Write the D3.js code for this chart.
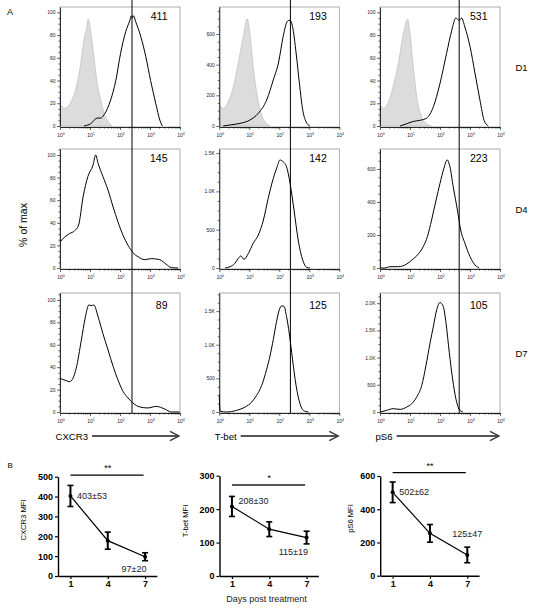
<!DOCTYPE html>
<html><head><meta charset="utf-8">
<script src="https://cdn.jsdelivr.net/npm/d3@7"></script>
<style>body{margin:0;background:#fff} svg{display:block}</style>
</head><body>
<script>
// ---------------- DATA ----------------
const markers = ["CXCR3", "T-bet", "pS6"];
const dayLabels = ["D1", "D4", "D7"];
const mfiText = [["411", "193", "531"], ["145", "142", "223"], ["89", "125", "105"]];
const gateDecades = [2.4, 2.37, 2.64];
const yAxisMax = [[104.7, 776, 104.7], [105.3, 1553, 721], [106.2, 1769, 2187]];
const pctTicks = [0, 20, 40, 60, 80, 100];
const yMajorTicks = [
  [pctTicks, [0, 200, 400, 600], pctTicks],
  [pctTicks, [0, 500, 1000, 1500], [0, 200, 400, 600]],
  [pctTicks, [0, 500, 1000, 1500], [0, 500, 1000, 1500, 2000]]
];
const xDecadeTicks = [0, 1, 2, 3, 4];

// histogram points: [log10 fluorescence, % of max or count]
const isoCXCR3 = [[0.00,18.5],[0.02,18.5],[0.13,15.5],[0.36,21],[0.52,32],[0.69,55],[0.80,76],[0.89,87],[0.94,94],[1.02,84],[1.13,61],[1.24,37.5],[1.36,23],[1.47,11],[1.58,5],[1.69,1],[1.74,0]];
const isoTbet = [[0.00,131],[0.02,131],[0.13,116],[0.30,159],[0.47,257],[0.63,410],[0.80,585],[0.93,698],[1.02,607],[1.13,388],[1.27,192],[1.41,72],[1.58,17],[1.69,0]];
const isoPS6 = [[0.00,17.6],[0.02,17.6],[0.11,15.5],[0.28,21],[0.44,35],[0.61,55],[0.78,81.5],[0.92,94],[1.00,81.5],[1.11,52],[1.24,23],[1.39,8],[1.56,2],[1.72,0]];

const cxcr3D1 = [[0.80,0],[1.02,2],[1.24,7],[1.36,7],[1.47,10],[1.69,23],[1.86,40],[2.02,64],[2.19,83],[2.33,93],[2.38,97],[2.41,95],[2.45,97],[2.52,92],[2.69,79],[2.86,61],[3.02,40],[3.19,20],[3.33,5],[3.41,0]];
const tbetD1 = [[0.13,0],[0.36,7],[0.69,17],[1.02,39],[1.30,83],[1.58,170],[1.80,301],[1.97,410],[2.13,585],[2.27,683],[2.36,690],[2.44,650],[2.56,476],[2.67,279],[2.78,105],[2.89,28],[3.02,0]];
const ps6D1 = [[0.67,0],[0.89,2],[1.11,4],[1.33,5],[1.56,7],[1.78,17],[2.00,37.5],[2.22,64],[2.39,84],[2.53,95],[2.64,93],[2.72,95],[2.83,87],[3.00,70],[3.17,46],[3.33,23],[3.47,5],[3.61,0]];

const cxcr3D4 = [[0.00,23],[0.16,27.5],[0.32,30.5],[0.49,33],[0.62,38],[0.77,63],[0.93,81],[1.10,91],[1.19,100],[1.27,92.6],[1.43,81],[1.60,69],[1.77,54],[1.93,41],[2.10,29],[2.27,20],[2.43,13.6],[2.60,10],[2.82,7.4],[3.04,8.3],[3.32,7.4],[3.54,3.3],[3.71,0.3],[3.93,0]];
const tbetD4 = [[0.19,0],[0.36,17],[0.52,61],[0.63,126],[0.72,157],[0.82,113],[0.97,191],[1.13,322],[1.30,430],[1.47,626],[1.63,909],[1.80,1170],[1.93,1322],[2.02,1409],[2.13,1387],[2.24,1322],[2.36,1104],[2.49,757],[2.63,365],[2.78,104],[2.91,9],[3.02,0]];
const ps6D4 = [[0.02,0],[0.17,0],[0.33,8],[0.61,8],[0.89,24],[1.06,48],[1.28,85],[1.44,129],[1.58,190],[1.72,291],[1.87,412],[2.00,513],[2.13,604],[2.24,655],[2.33,614],[2.44,493],[2.58,352],[2.69,230],[2.83,150],[3.00,69],[3.17,18],[3.31,0]];

const cxcr3D7 = [[0.00,30],[0.10,29],[0.21,28],[0.32,27],[0.43,30],[0.54,39],[0.71,64],[0.84,84],[0.96,95.5],[1.04,95],[1.13,95.5],[1.27,85],[1.43,70],[1.60,55.5],[1.77,40.7],[1.93,28.8],[2.10,18.4],[2.27,12.5],[2.43,8],[2.66,4.5],[2.93,3.6],[3.21,5],[3.49,2.7],[3.71,0],[3.99,0]];
const tbetD7 = [[0.00,250],[0.02,40],[0.04,10],[0.24,0],[0.58,25],[0.86,74],[1.08,147],[1.24,245],[1.41,392],[1.58,637],[1.69,833],[1.80,1078],[1.91,1348],[2.00,1520],[2.08,1578],[2.16,1569],[2.24,1422],[2.33,1176],[2.44,784],[2.56,392],[2.69,123],[2.80,25],[2.97,0]];
const ps6D7 = [[0.02,0],[0.22,30],[0.44,61],[0.67,48],[0.89,91],[1.06,152],[1.22,273],[1.39,485],[1.53,848],[1.67,1273],[1.78,1576],[1.89,1879],[2.00,2012],[2.11,1939],[2.20,1636],[2.31,1091],[2.42,606],[2.53,242],[2.64,48],[2.76,0]];

const histograms = [[cxcr3D1, tbetD1, ps6D1], [cxcr3D4, tbetD4, ps6D4], [cxcr3D7, tbetD7, ps6D7]];
const isotypeD1 = [isoCXCR3, isoTbet, isoPS6];

// Panel B
const days = [1, 4, 7];
const mfiTitles = ["CXCR3 MFI", "T-bet MFI", "pS6 MFI"];
const mfiMean = [[403, 178, 97], [208, 140, 115], [502, 255, 125]];
const mfiErr = [[53, 43, 20], [30, 22, 19], [62, 53, 47]];
const mfiYMax = [500, 300, 600];
const mfiYTicks = [[0, 100, 200, 300, 400, 500], [0, 100, 200, 300], [0, 200, 400, 600]];
const sigStars = ["**", "*", "**"];
const sigLevel = [508, 272, 620];
const annoText = [["403±53", "97±20"], ["208±30", "115±19"], ["502±62", "125±47"]];

// ---------------- DRAW ----------------
const FONT = "'Liberation Sans', Arial, Helvetica, sans-serif";
const svg = d3.select("body").append("svg").attr("width", 537).attr("height", 611)
  .style("font-family", FONT);

const colLeft = [60, 219.3, 380], rowTop = [7, 149, 293], PW = 120, PH = 120;
const fmtCount = v => v >= 1000 ? (v / 1000).toFixed(1) + "K" : String(v);

svg.append("text").attr("x", 7).attr("y", 14.5).attr("font-size", 9).text("A");

for (let r = 0; r < 3; r++) {
  for (let c = 0; c < 3; c++) {
    const left = colLeft[c], top = rowTop[r], bottom = top + PH;
    const x = d3.scaleLog().domain([1, 1e4]).range([left, left + PW]);
    const y = d3.scaleLinear().domain([0, yAxisMax[r][c]]).range([bottom - 1, top]);
    const g = svg.append("g");
    g.append("rect").attr("x", left).attr("y", top).attr("width", PW).attr("height", PH)
      .attr("fill", "none").attr("stroke", "#8a8a8a").attr("stroke-width", 0.7);

    const fx = d => x(Math.pow(10, d[0]));
    if (r === 0) {
      const area = d3.area().x(fx).y0(y(0)).y1(d => y(d[1])).curve(d3.curveMonotoneX);
      g.append("path").datum(isotypeD1[c]).attr("d", area)
        .attr("fill", "#dcdcdc").attr("stroke", "#b5b5b5").attr("stroke-width", 0.6);
    }
    const line = d3.line().x(fx).y(d => y(d[1])).curve(d3.curveMonotoneX);
    g.append("path").datum(histograms[r][c]).attr("d", line)
      .attr("fill", "none").attr("stroke", "#000").attr("stroke-width", 1);

    // x axis (log)
    const majors = xDecadeTicks.map(d => Math.pow(10, d));
    const minors = [];
    for (let d = 0; d < 4; d++) for (let k = 2; k <= 9; k++) minors.push(k * Math.pow(10, d));
    const xa = g.append("g").attr("transform", `translate(0,${bottom})`)
      .call(d3.axisBottom(x).tickValues(majors).tickSize(3).tickSizeOuter(0).tickFormat(""));
    const xm = g.append("g").attr("transform", `translate(0,${bottom})`)
      .call(d3.axisBottom(x).tickValues(minors).tickSize(1.6).tickSizeOuter(0).tickFormat(""));
    xm.select(".domain").remove();
    [xa, xm].forEach(a => { a.select(".domain").attr("stroke", "#000").attr("stroke-width", 0.8);
      a.selectAll(".tick line").attr("stroke", "#000").attr("stroke-width", 0.6); });
    xDecadeTicks.forEach(d => {
      const t = g.append("text").attr("x", x(Math.pow(10, d)) + 1).attr("y", bottom + 9.5)
        .attr("text-anchor", "middle").attr("font-size", 5).attr("fill", "#222");
      t.append("tspan").text("10");
      t.append("tspan").attr("dy", -2).attr("font-size", 3.6).text(d);
    });

    // y axis
    const ymaj = yMajorTicks[r][c];
    const step = ymaj[1] - ymaj[0];
    const yminors = d3.range(0, yAxisMax[r][c], step / 4).filter(v => !ymaj.includes(v));
    const ya = g.append("g").attr("transform", `translate(${left},0)`)
      .call(d3.axisLeft(y).tickValues(ymaj).tickSize(3).tickSizeOuter(0).tickPadding(1.5).tickFormat(fmtCount));
    const ym = g.append("g").attr("transform", `translate(${left},0)`)
      .call(d3.axisLeft(y).tickValues(yminors).tickSize(1.6).tickSizeOuter(0).tickFormat(""));
    ym.select(".domain").remove();
    [ya, ym].forEach(a => { a.select(".domain").attr("stroke", "#000").attr("stroke-width", 0.8);
      a.selectAll(".tick line").attr("stroke", "#000").attr("stroke-width", 0.6); });
    ya.selectAll(".tick text").attr("font-size", 5).attr("font-family", FONT).attr("fill", "#222");

    // MFI number
    g.append("text").attr("x", left + 107.5).attr("y", top + (r === 2 ? 16.3 : 12.8))
      .attr("text-anchor", "end").attr("font-size", 10.5).text(mfiText[r][c]);
  }
  svg.append("text").attr("x", 515.5).attr("y", rowTop[r] + 63.8).attr("font-size", 9.5).text(dayLabels[r]);
}

// gate lines
for (let c = 0; c < 3; c++) {
  const x = d3.scaleLog().domain([1, 1e4]).range([colLeft[c], colLeft[c] + PW]);
  svg.append("line").attr("x1", x(Math.pow(10, gateDecades[c]))).attr("x2", x(Math.pow(10, gateDecades[c])))
    .attr("y1", 0).attr("y2", rowTop[2] + PH).attr("stroke", "#000").attr("stroke-width", 1);
}

// % of max
svg.append("text").attr("transform", "translate(27,225) rotate(-90)").attr("text-anchor", "middle")
  .attr("font-size", 10.5).text("% of max");

// marker labels with arrows
for (let c = 0; c < 3; c++) {
  const lx = colLeft[c] - 4.5, ly = 439.8;
  const t = svg.append("text").attr("x", lx).attr("y", ly).attr("font-size", 9.6).text(markers[c]);
  const w = t.node().getComputedTextLength();
  const x0 = lx + w + 4, x1 = colLeft[c] + 119, ay = 436;
  svg.append("line").attr("x1", x0).attr("x2", x1 - 1).attr("y1", ay).attr("y2", ay)
    .attr("stroke", "#555").attr("stroke-width", 2);
  svg.append("path").attr("d", `M${x1 - 9},${ay - 4.6} L${x1},${ay} L${x1 - 9},${ay + 4.6}`)
    .attr("fill", "none").attr("stroke", "#333").attr("stroke-width", 1.3);
}

// ---------------- PANEL B ----------------
svg.append("text").attr("x", 7.5).attr("y", 467.5).attr("font-size", 8).text("B");
const bLeft = [58, 219.5, 380.2], bBottom = [576, 576, 575.7], bTop = [476.7, 475.7, 476];
const dayPx = 12.44;
const yLabelX = [25.5, 188, 353], yLabelY = [520, 521, 518.5];

for (let p = 0; p < 3; p++) {
  const x = d3.scaleLinear().domain([0, 7.95]).range([bLeft[p], bLeft[p] + 7.95 * dayPx]);
  const y = d3.scaleLinear().domain([0, mfiYMax[p]]).range([bBottom[p], bTop[p]]);
  const g = svg.append("g");
  const xa = g.append("g").attr("transform", `translate(0,${bBottom[p]})`)
    .call(d3.axisBottom(x).tickValues(days).tickSize(3).tickSizeOuter(0).tickPadding(2).tickFormat(d3.format("d")));
  const ya = g.append("g").attr("transform", `translate(${bLeft[p]},0)`)
    .call(d3.axisLeft(y).tickValues(mfiYTicks[p]).tickSize(3).tickSizeOuter(0).tickPadding(2));
  [xa, ya].forEach(a => {
    a.select(".domain").attr("stroke", "#000").attr("stroke-width", 1.4);
    a.selectAll(".tick line").attr("stroke", "#000").attr("stroke-width", 1.2);
    a.selectAll(".tick text").attr("font-size", 9).attr("font-weight", "bold").attr("font-family", FONT).attr("fill", "#000");
  });

  const pts = days.map((d, i) => ({ d, m: mfiMean[p][i], e: mfiErr[p][i] }));
  g.append("path").datum(pts).attr("d", d3.line().x(q => x(q.d)).y(q => y(q.m)))
    .attr("fill", "none").attr("stroke", "#000").attr("stroke-width", 1.2);
  pts.forEach(q => {
    const cx = x(q.d);
    g.append("line").attr("x1", cx).attr("x2", cx).attr("y1", y(q.m - q.e)).attr("y2", y(q.m + q.e))
      .attr("stroke", "#000").attr("stroke-width", 2);
    [q.m - q.e, q.m + q.e].forEach(v => g.append("line").attr("x1", cx - 3).attr("x2", cx + 3)
      .attr("y1", y(v)).attr("y2", y(v)).attr("stroke", "#000").attr("stroke-width", 1.6));
    g.append("circle").attr("cx", cx).attr("cy", y(q.m)).attr("r", 2).attr("fill", "#000");
  });

  // significance
  const sy = y(sigLevel[p]);
  g.append("line").attr("x1", x(1)).attr("x2", x(7) - 1.5).attr("y1", sy).attr("y2", sy)
    .attr("stroke", p === 1 ? "#555" : "#000").attr("stroke-width", p === 1 ? 2 : 1.3);
  g.append("text").attr("x", x(4)).attr("y", sy - 4).attr("text-anchor", "middle")
    .attr("font-size", 9).text(sigStars[p]);

  // y title
  g.append("text").attr("transform", `translate(${yLabelX[p]},${yLabelY[p]}) rotate(-90)`)
    .attr("text-anchor", "middle").attr("font-size", 7.6).text(mfiTitles[p]);

  // annotations
  const a0 = pts[0], a2 = pts[2];
  g.append("text").attr("x", x(a0.d) + 6.5).attr("y", y(a0.m) + (p === 1 ? -2 : 3))
    .attr("font-size", 9).attr("fill", "#222").text(annoText[p][0]);
  if (p < 2) {
    g.append("text").attr("x", x(a2.d) + 1.5).attr("y", y(a2.m) + (p === 0 ? 15 : 17))
      .attr("text-anchor", "end").attr("font-size", 9).attr("fill", "#222").text(annoText[p][1]);
  } else {
    g.append("text").attr("x", x(a2.d)).attr("y", y(a2.m) - 17.5)
      .attr("text-anchor", "middle").attr("font-size", 9).attr("fill", "#222").text(annoText[p][1]);
  }
}
svg.append("text").attr("x", 266.5).attr("y", 602).attr("text-anchor", "middle").attr("font-size", 9)
  .attr("fill", "#222").text("Days post treatment");
</script>
</body></html>
